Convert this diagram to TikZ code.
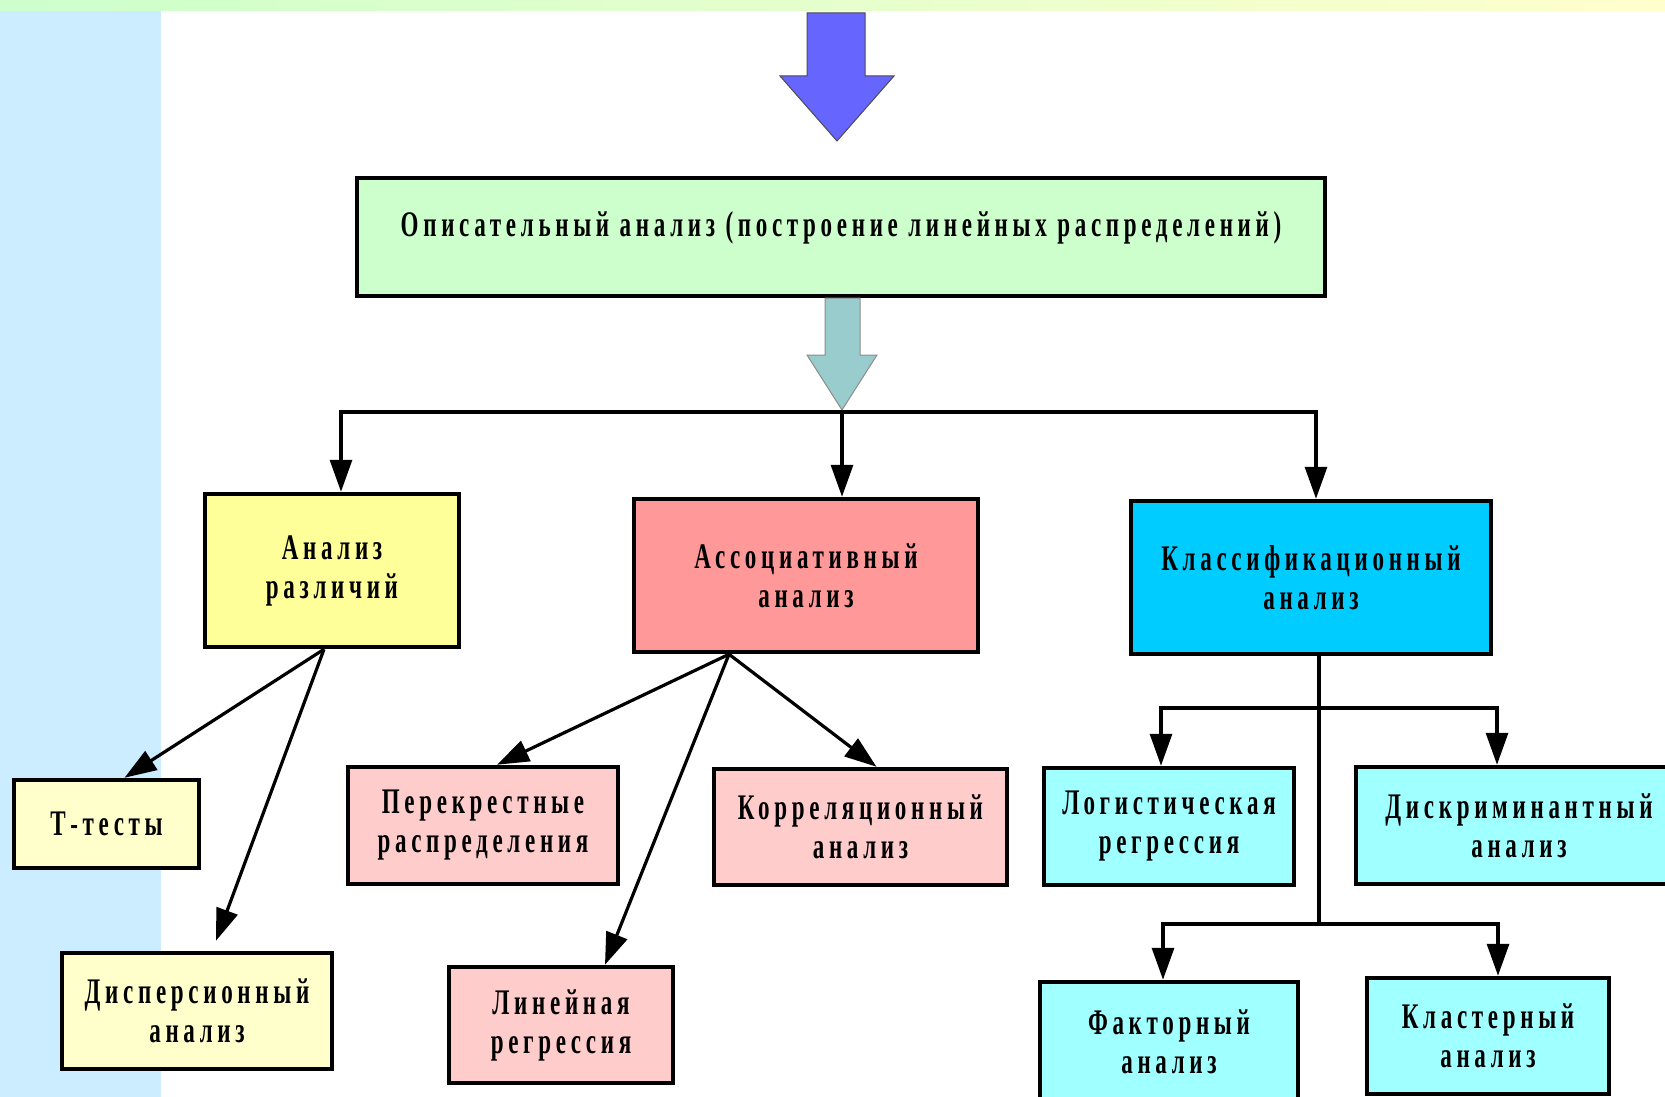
\documentclass[tikz,border=0pt]{standalone}
\usepackage{fontspec}
\setmainfont{Liberation Serif}[FakeStretch=0.64,LetterSpace=13]
\usetikzlibrary{arrows.meta,calc}
\definecolor{bandL}{HTML}{CCFFCC}
\definecolor{bandR}{HTML}{FFFFCC}
\definecolor{strip}{HTML}{CCECFF}
\definecolor{cgreen}{HTML}{CCFFCC}
\definecolor{cyellow}{HTML}{FFFF99}
\definecolor{cpaleyellow}{HTML}{FFFFCC}
\definecolor{cred}{HTML}{FF9999}
\definecolor{cpink}{HTML}{FFCCCC}
\definecolor{ccyan}{HTML}{00CCFF}
\definecolor{caqua}{HTML}{A0FFFF}
\definecolor{cblue}{HTML}{6666FF}
\definecolor{cteal}{HTML}{99CCCC}
\tikzset{
  box/.style={draw=black, line width=4.5pt, align=center, inner sep=0pt,
    font=\fontsize{36}{39}\selectfont\bfseries},
  conn/.style={line width=3.2pt, -{Triangle[length=32pt,width=22pt]}},
  plain/.style={line width=3.2pt},
}
\begin{document}
\begin{tikzpicture}[x=1pt,y=-1pt]
\useasboundingbox (0,0) rectangle (1665,1097);
% background
\fill[left color=bandL, right color=bandR] (0,0) rectangle (1665,11);
\fill[strip] (0,11) rectangle (161,1097);
% big arrows
\filldraw[fill=cblue, draw=black!70, line width=1pt]
  (807,13) -- (865,13) -- (865,76) -- (894,76) -- (837,141) -- (780,76) -- (807,76) -- cycle;
% boxes
\node[box, fill=cgreen, minimum width=968pt, minimum height=118pt, text height=26pt, text depth=28pt] (top) at (841,237)
  {Описательный анализ (построение линейных распределений)};
\filldraw[fill=cteal, draw=black!45, line width=1pt]
  (825,298) -- (860,298) -- (860,355) -- (877,355) -- (842,410) -- (807,355) -- (825,355) -- cycle;
\node[box, fill=cyellow, minimum width=254pt, minimum height=153pt] (diff) at (332,570.5) {Анализ\\различий};
\node[box, fill=cred, minimum width=344pt, minimum height=153pt] (assoc) at (806,575.5) {Ассоциативный\\анализ};
\node[box, fill=ccyan, minimum width=360pt, minimum height=153pt] (class) at (1311,577.5) {Классификационный\\анализ};
\node[box, fill=cpaleyellow, minimum width=185pt, minimum height=88pt] (ttest) at (106.5,824) {Т-тесты};
\node[box, fill=cpaleyellow, minimum width=270pt, minimum height=116pt] (disp) at (197,1011) {Дисперсионный\\анализ};
\node[box, fill=cpink, minimum width=270pt, minimum height=117pt] (cross) at (483,825.5) {Перекрестные\\распределения};
\node[box, fill=cpink, minimum width=293pt, minimum height=116pt] (corr) at (860.5,827) {Корреляционный\\анализ};
\node[box, fill=cpink, minimum width=224pt, minimum height=116pt] (linreg) at (561,1025) {Линейная\\регрессия};
\node[box, fill=caqua, minimum width=250pt, minimum height=117pt] (logit) at (1169,826.5) {Логистическая\\регрессия};
\node[box, fill=caqua, minimum width=326pt, minimum height=117pt] (discr) at (1519,825.5) {Дискриминантный\\анализ};
\node[box, fill=caqua, minimum width=258pt, minimum height=120pt] (factor) at (1169,1042) {Факторный\\анализ};
\node[box, fill=caqua, minimum width=242pt, minimum height=116pt] (cluster) at (1488,1036) {Кластерный\\анализ};
% level 1 connectors
\coordinate (hm) at (842,412);
\draw[conn] (hm) -| ([xshift=9pt]diff.north);
\draw[conn] (hm) -| ([xshift=5pt]class.north);
\draw[conn] (hm) -- (hm |- assoc.north);
% differences
\coordinate (ds) at ([xshift=-8pt]diff.south);
\draw[conn] (ds) -- ([xshift=18pt]ttest.north);
\draw[conn] (ds) -- ([xshift=19pt,yshift=10pt]disp.north);
% association
\coordinate (as) at ([xshift=-77pt]assoc.south);
\draw[conn] (as) -- ([xshift=14pt]cross.north);
\draw[conn] (as) -- ([xshift=16pt]corr.north);
\draw[conn] (as) -- ([xshift=44pt]linreg.north);
% classification
\coordinate (cs) at ([xshift=8pt]class.south);
\coordinate (c1) at (1319,708);
\coordinate (c2) at (1319,924);
\draw[plain] (cs) -- (c2);
\draw[conn] (c1) -| ([xshift=-8pt]logit.north);
\draw[conn] (c1) -| ([xshift=-22pt]discr.north);
\draw[conn] (c2) -| ([xshift=-6pt]factor.north);
\draw[conn] (c2) -| ([xshift=10pt]cluster.north);
\end{tikzpicture}
\end{document}
